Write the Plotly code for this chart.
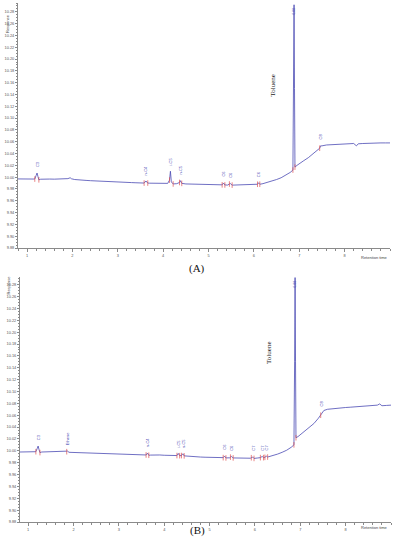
import numpy as np
import plotly.graph_objects as go

# ---------------- data ----------------
time_a = [0.80, 0.90, 1.00, 1.10, 1.17, 1.20, 1.22, 1.24, 1.26, 1.30, 1.40, 1.50, 1.60, 1.70, 1.80,
          1.90, 1.95, 1.98, 2.05, 2.10, 2.20, 2.30, 2.40, 2.50, 2.60, 2.70, 2.80, 2.90, 3.00, 3.10,
          3.20, 3.30, 3.40, 3.50, 3.58, 3.62, 3.66, 3.70, 3.80, 3.90, 4.00, 4.10, 4.14, 4.16, 4.18,
          4.22, 4.30, 4.36, 4.38, 4.41, 4.50, 4.60, 4.70, 4.80, 4.90, 5.00, 5.10, 5.20, 5.30, 5.33,
          5.36, 5.42, 5.48, 5.52, 5.60, 5.70, 5.80, 5.90, 6.00, 6.08, 6.10, 6.13, 6.20, 6.30, 6.40,
          6.50, 6.60, 6.70, 6.80, 6.86, 6.875, 6.885, 6.895, 6.905, 6.95, 7.00, 7.10, 7.20, 7.30, 7.40,
          7.45, 7.47, 7.50, 7.60, 7.70, 7.80, 7.90, 8.00, 8.10, 8.20, 8.26, 8.30, 8.40, 8.50, 8.60,
          8.70, 8.80, 8.90, 9.00]
resp_a = [9.9970, 9.9968, 9.9966, 9.9970, 9.9968, 10.0030, 10.0070, 10.0010, 9.9955, 9.9965, 9.9970, 9.9968, 9.9966, 9.9970, 9.9972,
          9.9975, 9.9990, 9.9972, 9.9960, 9.9955, 9.9950, 9.9945, 9.9940, 9.9935, 9.9930, 9.9928, 9.9925, 9.9922, 9.9920, 9.9915,
          9.9912, 9.9908, 9.9905, 9.9903, 9.9900, 9.9935, 9.9900, 9.9898, 9.9900, 9.9902, 9.9898, 9.9895, 9.9950, 10.0100, 9.9920,
          9.9885, 9.9890, 9.9910, 9.9940, 9.9895, 9.9885, 9.9882, 9.9880, 9.9878, 9.9875, 9.9872, 9.9870, 9.9868, 9.9870, 9.9900,
          9.9868, 9.9866, 9.9892, 9.9865, 9.9866, 9.9868, 9.9870, 9.9872, 9.9875, 9.9880, 9.9905, 9.9880, 9.9890, 9.9910, 9.9935,
          9.9960, 9.9990, 10.0030, 10.0080, 10.0120, 10.1500, 10.2920, 10.1500, 10.0170, 10.0200, 10.0230, 10.0280, 10.0330, 10.0390, 10.0460,
          10.0490, 10.0530, 10.0530, 10.0545, 10.0550, 10.0555, 10.0560, 10.0565, 10.0570, 10.0570, 10.0530, 10.0565, 10.0570, 10.0575, 10.0575,
          10.0580, 10.0580, 10.0580, 10.0580]

time_b = [0.82, 1.00, 1.10, 1.17, 1.20, 1.22, 1.24, 1.26, 1.30, 1.40, 1.50, 1.60, 1.70, 1.80, 1.85,
          1.87, 1.90, 2.00, 2.10, 2.20, 2.30, 2.40, 2.50, 2.60, 2.70, 2.80, 2.90, 3.00, 3.10, 3.20,
          3.30, 3.40, 3.50, 3.60, 3.63, 3.66, 3.70, 3.80, 3.90, 4.00, 4.10, 4.20, 4.28, 4.31, 4.34,
          4.38, 4.41, 4.44, 4.50, 4.60, 4.70, 4.80, 4.90, 5.00, 5.10, 5.20, 5.30, 5.33, 5.36, 5.44,
          5.48, 5.52, 5.60, 5.70, 5.80, 5.90, 5.95, 5.98, 6.05, 6.12, 6.16, 6.19, 6.22, 6.25, 6.28,
          6.40, 6.50, 6.60, 6.70, 6.80, 6.86, 6.875, 6.885, 6.895, 6.905, 6.95, 7.00, 7.10, 7.20, 7.30,
          7.40, 7.45, 7.47, 7.52, 7.60, 7.70, 7.80, 7.90, 8.00, 8.10, 8.20, 8.30, 8.40, 8.50, 8.60,
          8.70, 8.75, 8.80, 8.90, 9.00]
resp_b = [9.9980, 9.9982, 9.9985, 9.9985, 10.0040, 10.0080, 10.0020, 9.9970, 9.9980, 9.9982, 9.9980, 9.9978, 9.9980, 9.9982, 9.9985,
          9.9995, 9.9975, 9.9972, 9.9968, 9.9965, 9.9960, 9.9958, 9.9955, 9.9952, 9.9950, 9.9947, 9.9945, 9.9942, 9.9940, 9.9938,
          9.9935, 9.9933, 9.9930, 9.9930, 9.9960, 9.9925, 9.9928, 9.9935, 9.9930, 9.9925, 9.9922, 9.9920, 9.9920, 9.9955, 9.9918,
          9.9920, 9.9950, 9.9915, 9.9910, 9.9905, 9.9900, 9.9895, 9.9892, 9.9890, 9.9888, 9.9885, 9.9885, 9.9910, 9.9880, 9.9882,
          9.9905, 9.9880, 9.9880, 9.9878, 9.9876, 9.9875, 9.9895, 9.9872, 9.9878, 9.9885, 9.9905, 9.9885, 9.9890, 9.9910, 9.9895,
          9.9920, 9.9945, 9.9975, 10.0010, 10.0060, 10.0100, 10.1500, 10.2920, 10.1500, 10.0220, 10.0240, 10.0270, 10.0330, 10.0390, 10.0460,
          10.0550, 10.0600, 10.0640, 10.0680, 10.0700, 10.0710, 10.0720, 10.0725, 10.0730, 10.0735, 10.0740, 10.0745, 10.0750, 10.0755, 10.0760,
          10.0770, 10.0790, 10.0760, 10.0765, 10.0770]

# peak labels (retention time, name)
peaks_a_t = [1.22, 3.62, 4.16, 4.38, 5.33, 5.48, 6.10, 7.47]
peaks_a_n = ["C3", "n-C4", "i-C5", "n-C5", "C6", "C6", "C6", "C8"]
peaks_b_t = [1.22, 1.87, 3.63, 4.31, 4.41, 5.33, 5.48, 5.95, 6.16, 6.25, 7.47]
peaks_b_n = ["C3", "Ethene", "n-C4", "i-C5", "n-C5", "C6", "C6", "C7", "C7", "C7", "C8"]

# integration markers (peak start/end times)
marks_a = [1.17, 1.26, 3.58, 3.66, 4.14, 4.22, 4.36, 4.41, 5.30, 5.36, 5.46, 5.52, 6.08, 6.13, 6.86, 6.905, 7.45]
marks_b = [1.17, 1.26, 1.85, 3.60, 3.66, 4.28, 4.34, 4.38, 4.44, 5.30, 5.36, 5.46, 5.52, 5.92, 5.98, 6.12, 6.19, 6.22, 6.28, 6.86, 6.905, 7.45]

toluene_t = 6.885
y_ticks = [9.88 + 0.02 * i for i in range(21)]
x_ticks = [1, 2, 3, 4, 5, 6, 7, 8]

# ---------------- figure ----------------
LINE = "#4a4ab4"
AX = "#8a8a8a"
TICKF = dict(family="Liberation Sans", size=3.9, color="#555555")

fig = go.Figure()

panels = [
    ("x", "y", time_a, resp_a, peaks_a_t, peaks_a_n, marks_a),
    ("x2", "y2", time_b, resp_b, peaks_b_t, peaks_b_n, marks_b),
]
for xa, ya, t, r, pt, pn, mk in panels:
    fig.add_trace(go.Scatter(x=t, y=r, mode="lines", xaxis=xa, yaxis=ya,
                             line=dict(color=LINE, width=0.8), hoverinfo="skip", showlegend=False))
    mky = np.interp(mk, t, r)
    fig.add_trace(go.Scatter(x=mk, y=mky, mode="markers", xaxis=xa, yaxis=ya,
                             marker=dict(symbol="line-ns", size=4, line=dict(color="#e05050", width=0.7)),
                             hoverinfo="skip", showlegend=False))
    pky = np.interp(pt, t, r)
    for tt, yy, name in zip(pt, pky, pn):
        fig.add_annotation(x=tt, y=yy, xref=xa, yref=ya, text=name, showarrow=False,
                           textangle=-90, yanchor="bottom", yshift=4,
                           font=dict(family="Liberation Sans", size=4, color="#4a4ab4"))
    # toluene peak label
    fig.add_annotation(x=toluene_t, y=max(r), xref=xa, yref=ya, text="6.88", showarrow=False,
                       textangle=-90, yanchor="top", xshift=0.5, yshift=-1,
                       font=dict(family="Liberation Sans", size=3.5, color="#4a4ab4"))

# Toluene names
fig.add_annotation(x=6.43, y=10.156, xref="x", yref="y", text="Toluene", showarrow=False,
                   textangle=-90, font=dict(family="Liberation Serif", size=7, color="#222222"))
fig.add_annotation(x=6.31, y=10.165, xref="x2", yref="y2", text="Toluene", showarrow=False,
                   textangle=-90, font=dict(family="Liberation Serif", size=7, color="#222222"))

common_x = dict(showgrid=False, zeroline=False, showline=True, linecolor=AX, linewidth=1,
                automargin=False,
                ticks="outside", ticklen=3, tickcolor=AX, tickvals=x_ticks,
                ticktext=[str(v) for v in x_ticks], tickfont=TICKF,
                minor=dict(dtick=0.2, ticks="outside", ticklen=1.5, tickcolor=AX))
common_y = dict(showgrid=False, zeroline=False, showline=True, linecolor=AX, linewidth=1,
                automargin=False,
                ticks="outside", ticklen=2, tickcolor=AX, tickvals=y_ticks,
                ticktext=["%.2f" % v for v in y_ticks], tickfont=TICKF,
                minor=dict(dtick=0.005, ticks="outside", ticklen=1.2, tickcolor=AX))

fig.update_layout(
    width=394, height=550, margin=dict(l=0, r=0, t=0, b=0, autoexpand=False),
    paper_bgcolor="white", plot_bgcolor="white",
    xaxis=dict(domain=[18 / 394, 390 / 394], range=[0.8, 9.0], anchor="y", **common_x),
    yaxis=dict(domain=[(550 - 248) / 550, (550 - 3) / 550], range=[9.88, 10.295], anchor="x", **common_y),
    xaxis2=dict(domain=[20 / 394, 391 / 394], range=[0.82, 9.0], anchor="y2", **common_x),
    yaxis2=dict(domain=[(550 - 522) / 550, (550 - 277) / 550], range=[9.88, 10.293], anchor="x2", **common_y),
)

# panel letters, axis titles
for txt, ypx in [("(A)", 268), ("(B)", 539)]:
    fig.add_annotation(x=197 / 394, y=(550 - ypx) / 550, xref="paper", yref="paper", text=txt,
                       showarrow=False, font=dict(family="Liberation Serif", size=11, color="#111111"))
for ypx in [257, 532]:
    fig.add_annotation(x=390 / 394, y=(550 - ypx) / 550, xref="paper", yref="paper", text="Retention time",
                       xanchor="right", showarrow=False,
                       font=dict(family="Liberation Sans", size=4, color="#444444"))
for ypx in [12, 285]:
    fig.add_annotation(x=3 / 394, y=(550 - ypx) / 550, xref="paper", yref="paper", text="Response",
                       showarrow=False, textangle=-90, font=dict(family="Liberation Sans", size=4, color="#444444"))

fig.write_html("out.html", config={"displayModeBar": False},
               post_script="document.body.style.margin='0';document.body.style.overflow='hidden';")
